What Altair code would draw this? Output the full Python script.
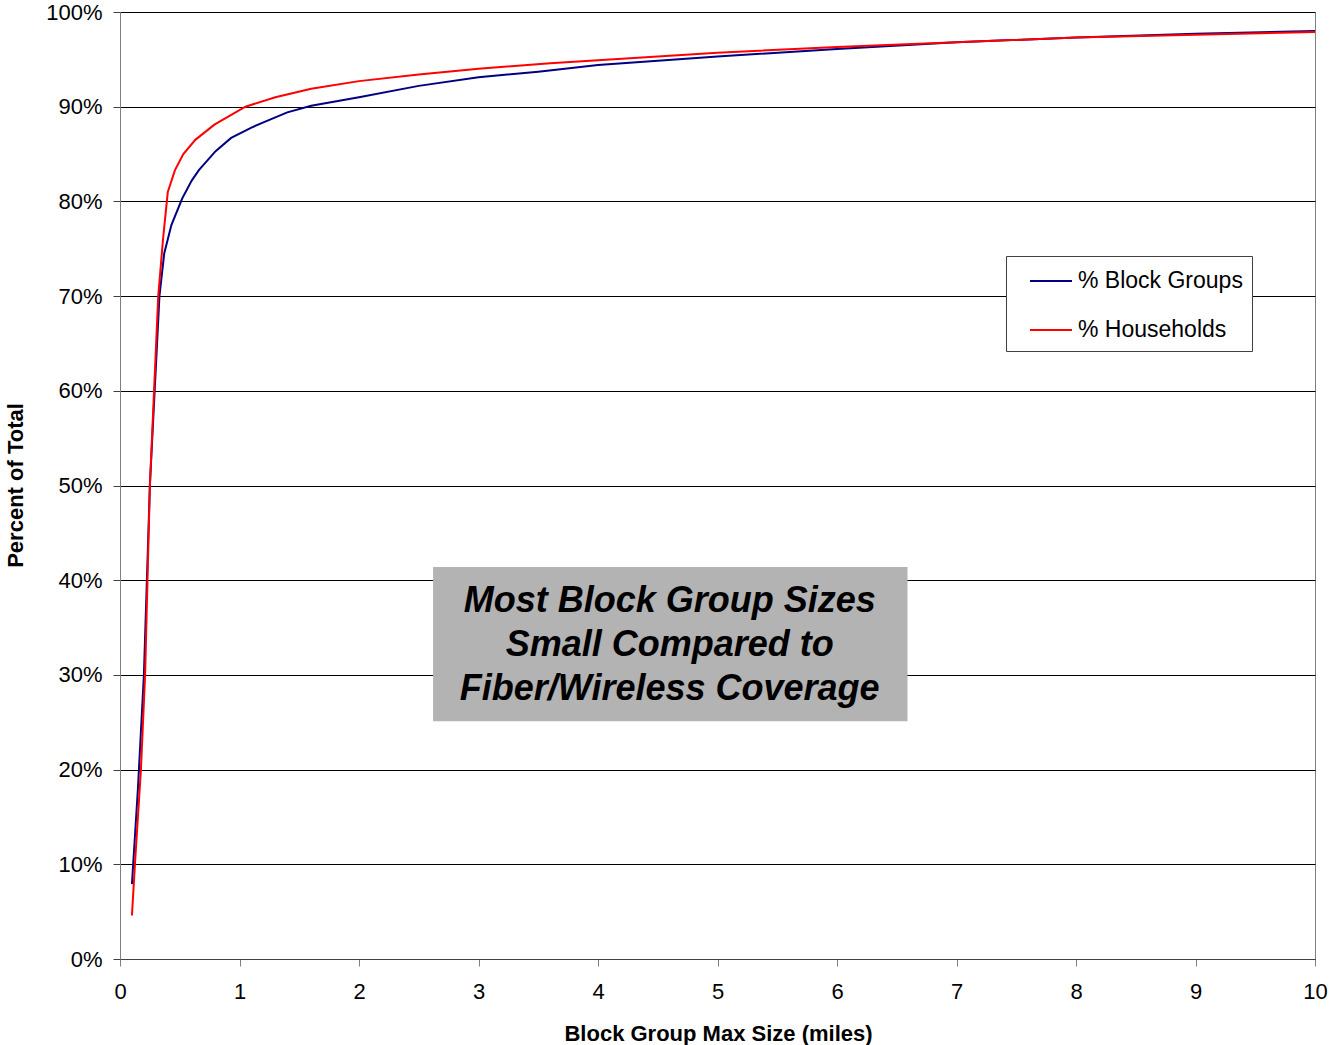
import altair as alt
import pandas as pd

# Series (x in miles, y in percent)
bg_x = [0.10, 0.15, 0.20, 0.25, 0.29, 0.33, 0.37, 0.43, 0.52, 0.60, 0.66, 0.80, 0.93,
        1.10, 1.21, 1.40, 1.60, 2.0, 2.5, 3.0, 3.5, 4.0, 5.0, 6.0, 7.0, 8.0, 9.0, 10.0]
bg_y = [7.9, 18.0, 30.0, 50.0, 60.0, 70.0, 74.5, 77.5, 80.3, 82.2, 83.3, 85.3, 86.7,
        87.8, 88.4, 89.4, 90.1, 91.0, 92.2, 93.1, 93.7, 94.4, 95.3, 96.1, 96.8, 97.3, 97.7, 98.0]

hh_x = [0.10, 0.125, 0.175, 0.21, 0.23, 0.25, 0.285, 0.32, 0.36, 0.40, 0.46, 0.53, 0.63,
        0.79, 1.05, 1.3, 1.6, 2.0, 2.5, 3.0, 3.6, 4.0, 5.0, 6.0, 7.0, 8.0, 9.0, 10.0]
hh_y = [4.6, 10.0, 20.0, 30.0, 40.0, 50.0, 60.0, 70.0, 76.0, 81.0, 83.3, 85.0, 86.5,
        88.1, 90.0, 91.0, 91.9, 92.7, 93.4, 94.0, 94.6, 94.9, 95.7, 96.3, 96.8, 97.3, 97.6, 97.9]

series_names = ["% Block Groups", "% Households"]
series_colors = ["#000080", "#ff0000"]

note_lines = ["Most Block Group Sizes", "Small Compared to", "Fiber/Wireless Coverage"]
note_line_y = [37.8, 33.2, 28.5]
note_x = 4.60
note_box_x = [2.62, 6.59]
note_box_y = [25.1, 41.4]

x_ticks = list(range(0, 11))
y_ticks = list(range(0, 101, 10))

FONT = "Liberation Sans"

df = pd.DataFrame(
    {"x": bg_x + hh_x,
     "y": bg_y + hh_y,
     "series": [series_names[0]] * len(bg_x) + [series_names[1]] * len(hh_x)}
)

x_scale = alt.Scale(domain=[0, 10], nice=False, zero=False)
y_scale = alt.Scale(domain=[0, 100], nice=False)

lines = alt.Chart(df).mark_line(strokeWidth=2, clip=True).encode(
    x=alt.X("x:Q", scale=x_scale,
            axis=alt.Axis(title="Block Group Max Size (miles)", values=x_ticks,
                          format="d", grid=False, tickSize=7, tickColor="#808080",
                          domainColor="#404040", labelFontSize=22, labelFont=FONT,
                          labelColor="black", labelPadding=15, labelFlush=False,
                          labelOverlap=False,
                          titleFont=FONT, titleFontSize=22, titleFontWeight="bold",
                          titleColor="black", titleX=598, titleY=74,
                          titleBaseline="middle", titleAnchor="middle")),
    y=alt.Y("y:Q", scale=y_scale,
            axis=alt.Axis(title="Percent of Total", values=y_ticks,
                          labelExpr="datum.value + '%'", grid=True,
                          gridColor="black", gridWidth=1, gridOpacity=1,
                          tickSize=7, tickColor="#404040", domainColor="#808080",
                          labelFontSize=22, labelFont=FONT, labelColor="black",
                          labelPadding=11, labelFlush=False, labelOverlap=False,
                          titleFont=FONT, titleFontSize=22, titleFontWeight="bold",
                          titleColor="black", titleX=-105, titleY=473,
                          titleAngle=-90, titleBaseline="middle", titleAlign="center")),
    color=alt.Color("series:N",
                    scale=alt.Scale(domain=series_names, range=series_colors),
                    legend=alt.Legend(title=None, orient="none", legendX=886, legendY=244,
                                      padding=9, symbolType="M-1.4,0H1.4",
                                      symbolSize=900, symbolStrokeWidth=2,
                                      symbolOffset=20, labelOffset=11,
                                      labelFontSize=23, labelFont=FONT,
                                      labelColor="black", rowPadding=21,
                                      strokeColor="#404040", fillColor="white",
                                      labelLimit=300)),
    detail="series:N",
)

box_df = pd.DataFrame({"x1": [note_box_x[0]], "x2": [note_box_x[1]],
                       "y1": [note_box_y[0]], "y2": [note_box_y[1]]})
box = alt.Chart(box_df).mark_rect(color="#b3b3b3").encode(
    x=alt.X("x1:Q", scale=x_scale), x2="x2:Q",
    y=alt.Y("y1:Q", scale=y_scale), y2="y2:Q",
)

text_df = pd.DataFrame({"t": note_lines, "y": note_line_y, "x": [note_x] * 3})
text = alt.Chart(text_df).mark_text(
    font=FONT, fontSize=36, fontWeight="bold", fontStyle="italic",
    color="black", align="center", baseline="middle"
).encode(
    x=alt.X("x:Q", scale=x_scale), y=alt.Y("y:Q", scale=y_scale), text="t:N"
)

chart = alt.layer(box, text, lines).properties(
    width=1195, height=947,
    autosize=alt.AutoSizeParams(type="none"),
    padding={"left": 120, "top": 12, "right": 15, "bottom": 86},
    background="white",
).configure_view(stroke="#808080", strokeWidth=1)

chart.save("out.html", embed_options={"renderer": "svg", "actions": False})
